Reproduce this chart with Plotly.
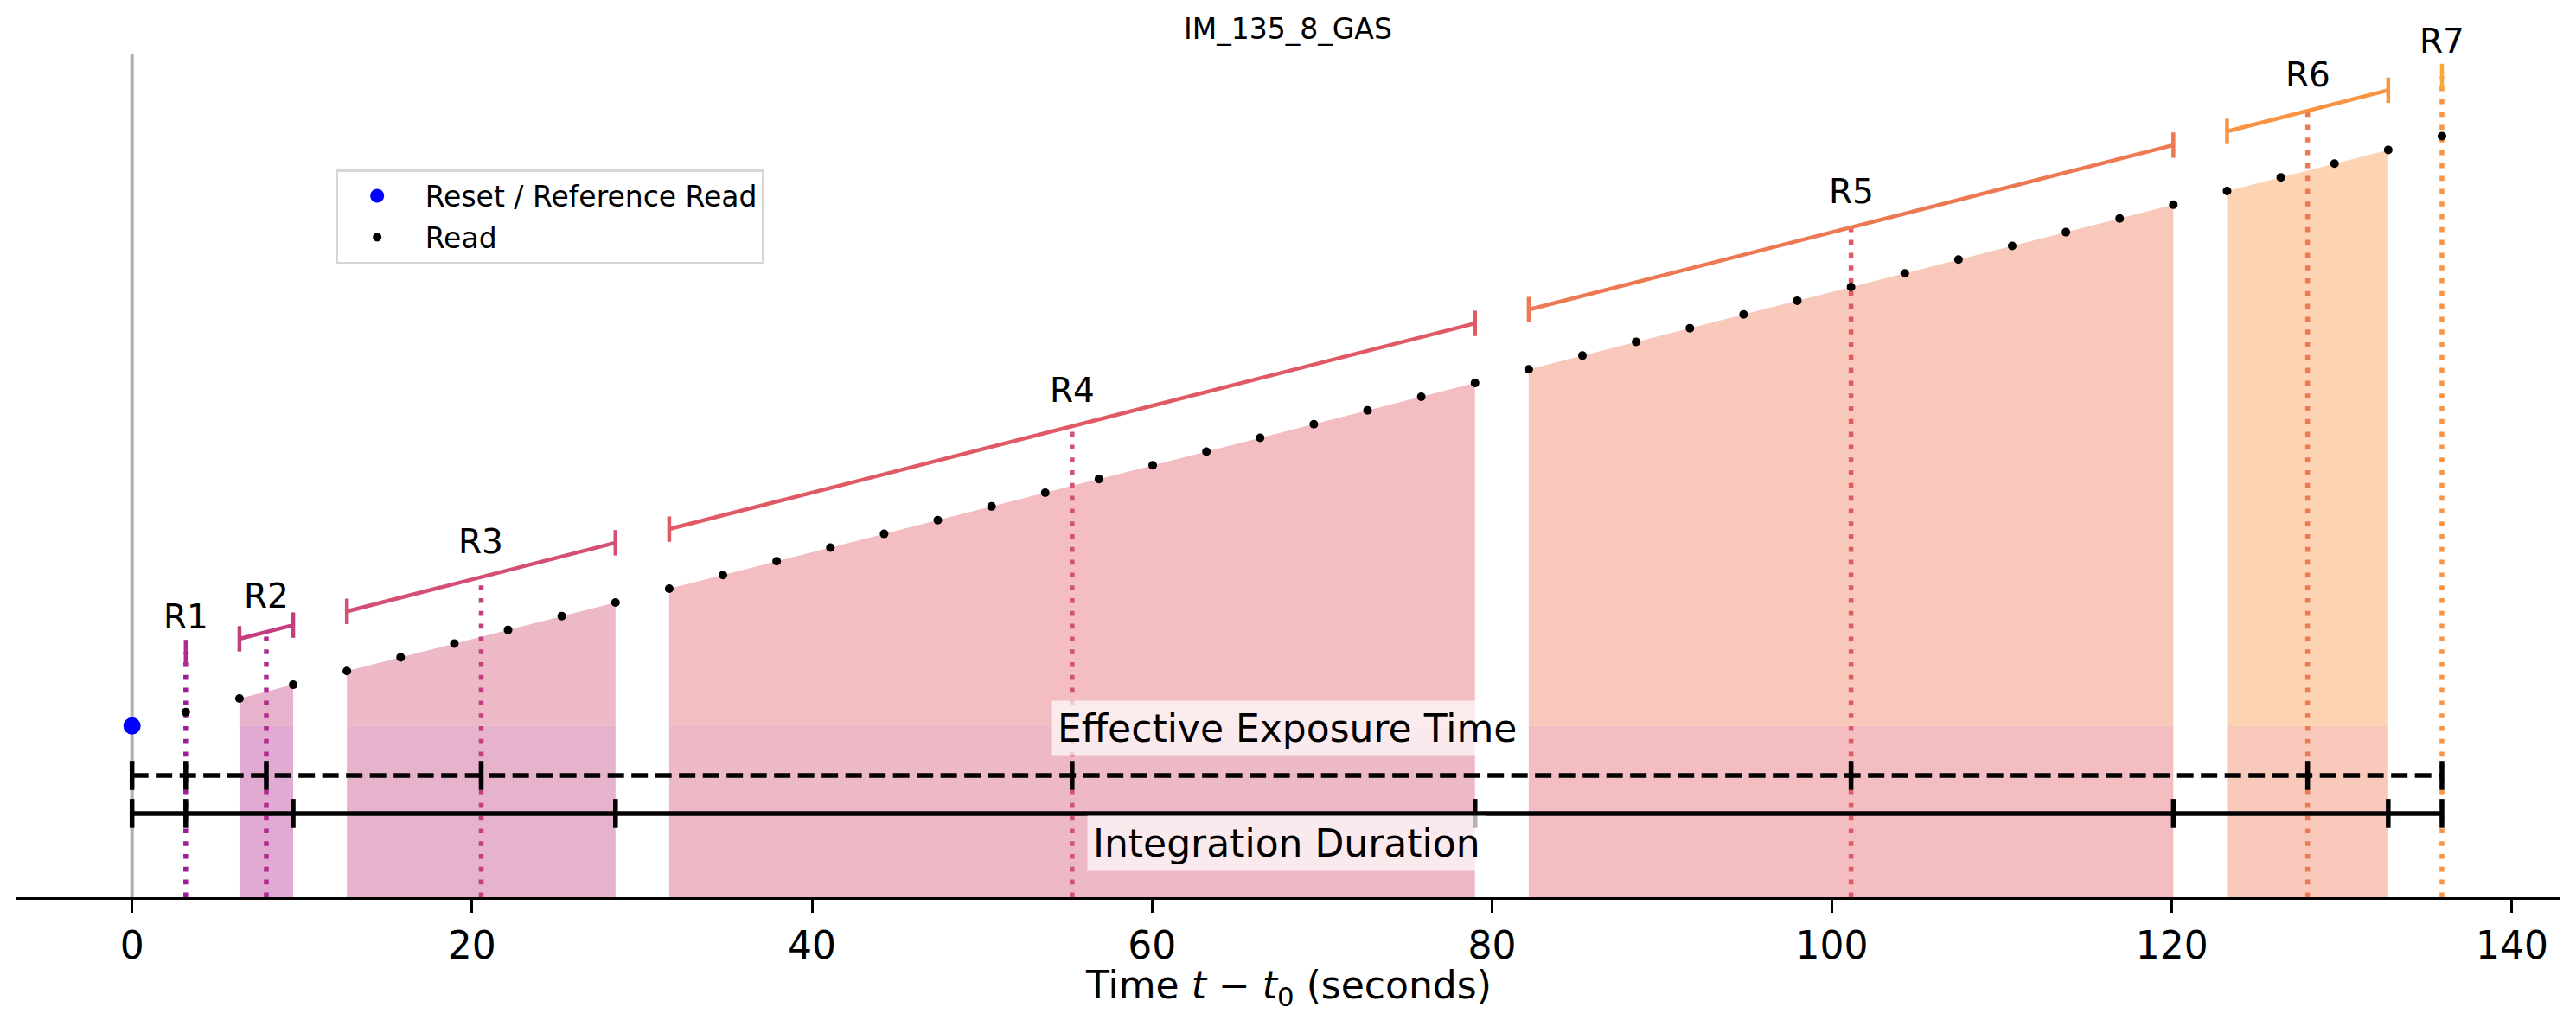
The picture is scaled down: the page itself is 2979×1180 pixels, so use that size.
import numpy as np
import plotly.graph_objects as go

# ramp data: read times (s) and counts, grouped by resultant
reset_time = 0.0
reset_count = 1250

read_times = [
    [3.16],
    [6.32, 9.48],
    [12.64, 15.80, 18.96, 22.12, 25.28, 28.44],
    [31.60, 34.76, 37.92, 41.08, 44.24, 47.40, 50.56, 53.72,
     56.88, 60.04, 63.20, 66.36, 69.52, 72.68, 75.84, 79.00],
    [82.16, 85.32, 88.48, 91.64, 94.80, 97.96, 101.12, 104.28,
     107.44, 110.60, 113.76, 116.92, 120.08],
    [123.24, 126.40, 129.56, 132.72],
    [135.88],
]
read_counts = [
    [1350],
    [1450, 1550],
    [1650, 1750, 1850, 1950, 2050, 2150],
    [2250, 2350, 2450, 2550, 2650, 2750, 2850, 2950,
     3050, 3150, 3250, 3350, 3450, 3550, 3650, 3750],
    [3850, 3950, 4050, 4150, 4250, 4350, 4450, 4550,
     4650, 4750, 4850, 4950, 5050],
    [5150, 5250, 5350, 5450],
    [5550],
]
resultant_labels = ["R1", "R2", "R3", "R4", "R5", "R6", "R7"]
title_text = "IM_135_8_GAS"

# plasma-ish palette, one more than the number of resultants
colors = ["#a01a9c", "#b12a90", "#c43e7f", "#d44f73",
          "#e05a66", "#ed7953", "#f89441", "#fca636"]

FONT = "DejaVu Sans"
BRACKET_OFF = 435      # bracket height above the ramp
LABEL_OFF = 260        # label height above the bracket
DASH_Y = 889           # effective exposure line
SOLID_Y = 612          # integration duration line
Y_TOP = 6152           # top of the matplotlib-style axes (gray line end)
Y_MAX = 6417           # plotly range top, leaves room for the R7 label


def rgba(hex_color, a):
    h = hex_color.lstrip("#")
    r, g, b = int(h[0:2], 16), int(h[2:4], 16), int(h[4:6], 16)
    return f"rgba({r},{g},{b},{a})"


fig = go.Figure()

means_t = [float(np.mean(t)) for t in read_times]
means_c = [float(np.mean(c)) for c in read_counts]
ends_t = [t[-1] for t in read_times]

# shaded areas under each resultant
for i, (t, c) in enumerate(zip(read_times, read_counts)):
    if len(t) < 2:
        continue
    fig.add_trace(go.Scatter(
        x=[t[0], t[-1], t[-1], t[0], t[0]],
        y=[0, 0, reset_count, reset_count, 0],
        fill="toself", fillcolor=rgba(colors[i], 0.4),
        line=dict(width=0), mode="lines", showlegend=False, hoverinfo="skip"))
    fig.add_trace(go.Scatter(
        x=list(t) + [t[-1], t[0], t[0]],
        y=list(c) + [reset_count, reset_count, c[0]],
        fill="toself", fillcolor=rgba(colors[i + 1], 0.4),
        line=dict(width=0), mode="lines", showlegend=False, hoverinfo="skip"))

# dotted verticals at each resultant mean time
for i in range(len(read_times)):
    fig.add_trace(go.Scatter(
        x=[means_t[i], means_t[i]], y=[0, means_c[i] + BRACKET_OFF],
        mode="lines", line=dict(color=colors[i], width=5.5, dash="5.6px,9.2px"),
        showlegend=False, hoverinfo="skip"))

# brackets above the ramp
for i, (t, c) in enumerate(zip(read_times, read_counts)):
    bx = [t[0], t[-1]] if len(t) > 1 else [t[0]]
    by = [c[0] + BRACKET_OFF, c[-1] + BRACKET_OFF] if len(t) > 1 else [c[0] + BRACKET_OFF]
    fig.add_trace(go.Scatter(
        x=bx, y=by, mode="lines+markers",
        line=dict(color=colors[i + 1], width=4.5),
        marker=dict(symbol="line-ns", size=21,
                    line=dict(color=colors[i + 1], width=4.5)),
        showlegend=False, hoverinfo="skip"))

# resultant labels
for lab, mt, mc in zip(resultant_labels, means_t, means_c):
    fig.add_annotation(x=mt, y=mc + BRACKET_OFF + LABEL_OFF, text=lab,
                       showarrow=False, yanchor="middle",
                       font=dict(family=FONT, size=39, color="black"))

# effective exposure time (dashed) and integration duration (solid)
dash_ticks = [reset_time] + means_t
solid_ticks = [reset_time] + ends_t
fig.add_trace(go.Scatter(
    x=[reset_time, means_t[-1]], y=[DASH_Y, DASH_Y], mode="lines",
    line=dict(color="black", width=5.5, dash="19px,8.5px"),
    showlegend=False, hoverinfo="skip"))
fig.add_trace(go.Scatter(
    x=dash_ticks, y=[DASH_Y] * len(dash_ticks), mode="markers",
    marker=dict(symbol="line-ns", size=24, line=dict(color="black", width=5.5)),
    showlegend=False, hoverinfo="skip"))
fig.add_trace(go.Scatter(
    x=[reset_time, ends_t[-1]], y=[SOLID_Y, SOLID_Y], mode="lines",
    line=dict(color="black", width=5.5),
    showlegend=False, hoverinfo="skip"))
fig.add_trace(go.Scatter(
    x=solid_ticks, y=[SOLID_Y] * len(solid_ticks), mode="markers",
    marker=dict(symbol="line-ns", size=24, line=dict(color="black", width=5.5)),
    showlegend=False, hoverinfo="skip"))

# reads
fig.add_trace(go.Scatter(
    x=[reset_time], y=[reset_count], mode="markers",
    name="&nbsp;Reset / Reference Read",
    marker=dict(color="blue", size=20), legendgroup="a"))
fig.add_trace(go.Scatter(
    x=[x for t in read_times for x in t], y=[y for c in read_counts for y in c],
    mode="markers", name="&nbsp;Read", marker=dict(color="black", size=10),
    legendgroup="b"))

mid_t = ends_t[-1] / 2
fig.add_annotation(x=mid_t, y=1234, text="Effective Exposure Time", showarrow=False,
                   font=dict(family=FONT, size=44, color="black"),
                   bgcolor="rgba(255,255,255,0.7)", borderpad=6)
fig.add_annotation(x=mid_t, y=395, text="Integration Duration", showarrow=False,
                   font=dict(family=FONT, size=44, color="black"),
                   bgcolor="rgba(255,255,255,0.7)", borderpad=6)

# axis title as an annotation so it can sit closer to the tick labels
plot_h = 1017.7
fig.add_annotation(xref="paper", yref="paper", x=0.5, y=-(1142 - 1037.7) / plot_h,
                   yanchor="middle", showarrow=False,
                   text="Time <i>t</i> − <i>t</i><sub>0</sub> (seconds)",
                   font=dict(family=FONT, size=44, color="black"))

fig.add_shape(type="line", x0=0, x1=0, y0=0, y1=Y_TOP, xref="x", yref="y",
              line=dict(color="#b0b0b0", width=4), layer="below")

# page body adds an 8px offset, margins compensate for it
fig.update_layout(
    width=2979, height=1180,
    margin=dict(l=11, r=27, t=12, b=150),
    paper_bgcolor="white", plot_bgcolor="white",
    font=dict(family=FONT, color="black"),
    title=dict(text=title_text, x=(11 + 2952) / 2 / 2979, xanchor="center",
               y=1 - 25 / 1180, yanchor="middle", yref="container",
               font=dict(family=FONT, size=33, color="black")),
    legend=dict(x=0.1257, y=1 - (196 - 20) / plot_h, xanchor="left", yanchor="top",
                bgcolor="white", bordercolor="#d6d6d6", borderwidth=2.5,
                font=dict(family=FONT, size=33), tracegroupgap=2, itemwidth=80),
    xaxis=dict(range=[-6.8, 142.8], tickvals=[0, 20, 40, 60, 80, 100, 120, 140],
               showgrid=False, zeroline=False, showline=True, linecolor="black",
               linewidth=3, ticks="outside", ticklen=15, tickwidth=3, tickcolor="black",
               tickfont=dict(family=FONT, size=44)),
    yaxis=dict(range=[0, Y_MAX], visible=False),
)

fig.write_html("out.html")
